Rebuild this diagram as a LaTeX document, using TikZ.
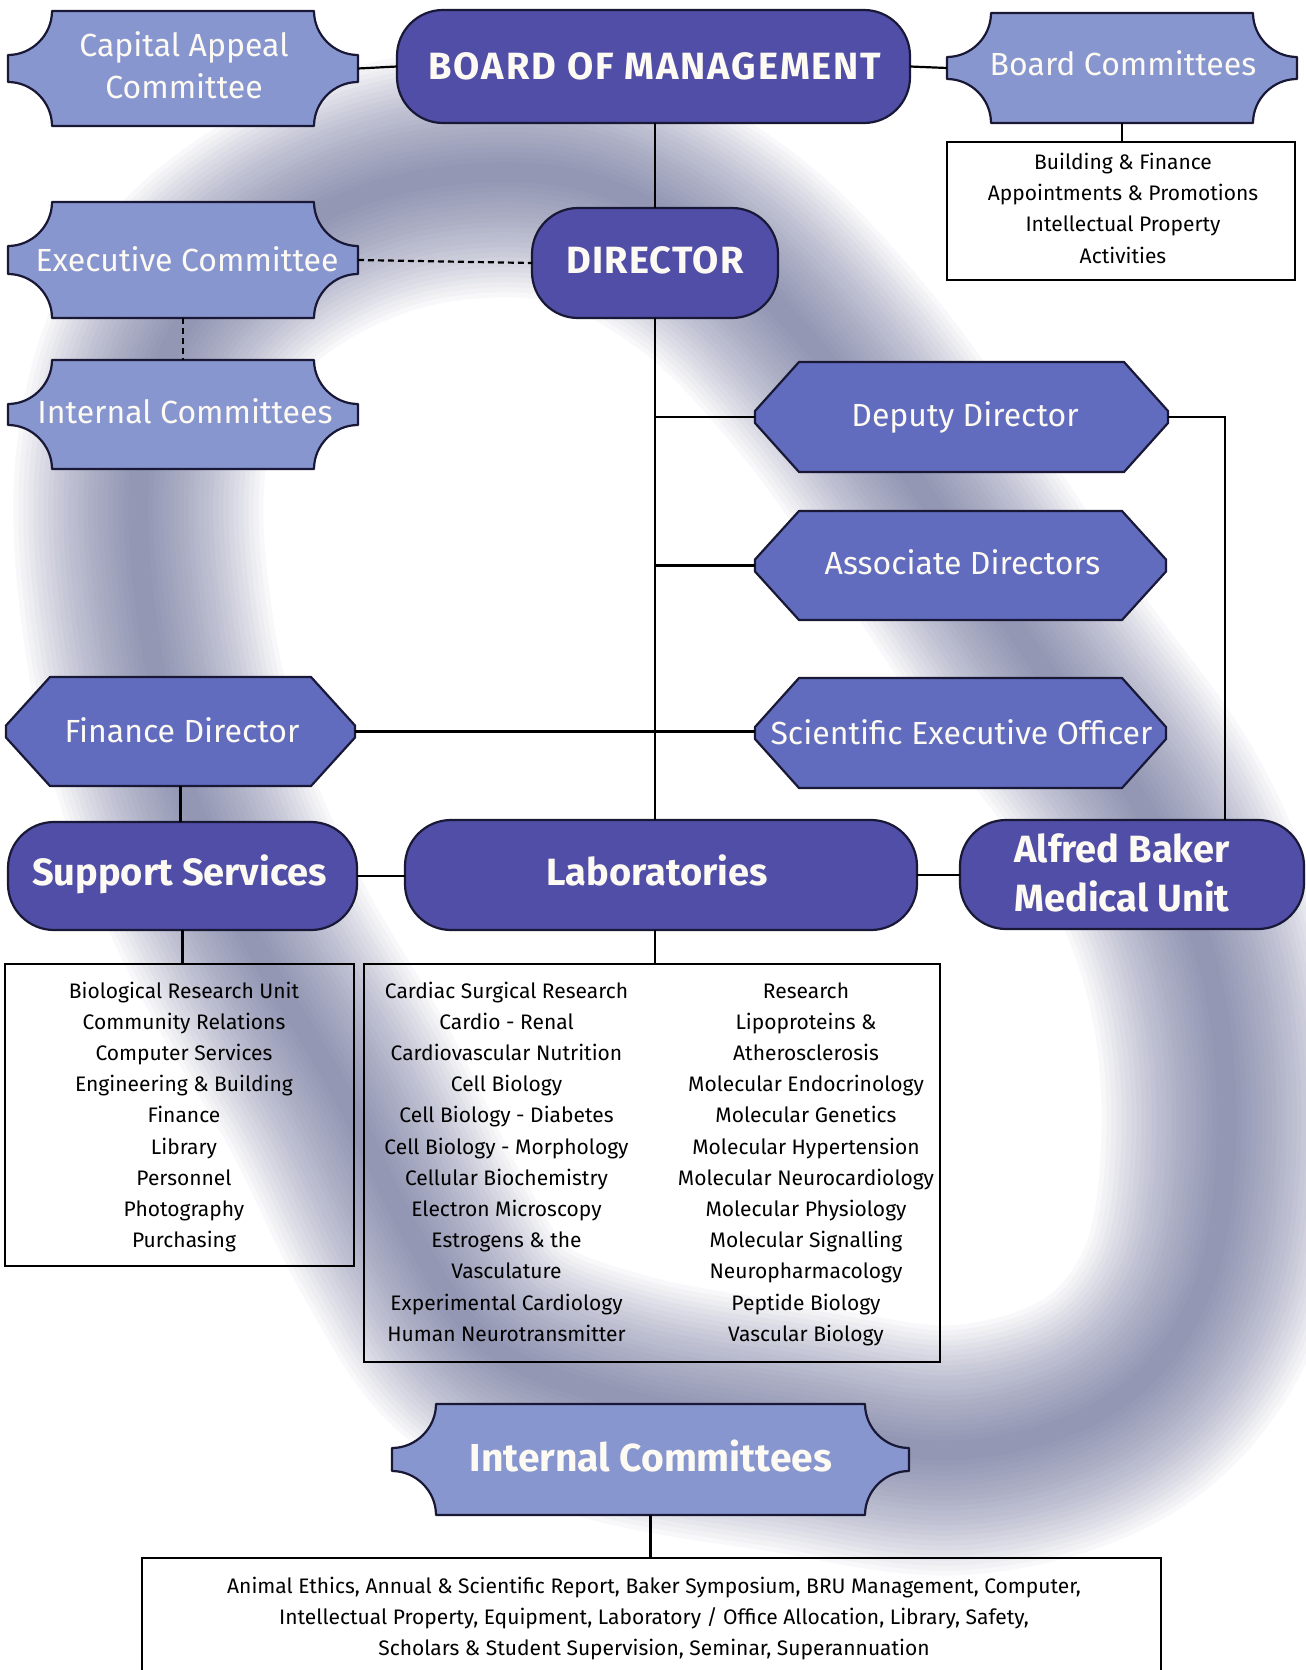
\documentclass[tikz,border=0pt]{standalone}
\usepackage{fontspec}
\setmainfont{Fira Sans}
\usetikzlibrary{calc}

\definecolor{roundblue}{RGB}{80,78,166}
\definecolor{hexblue}{RGB}{98,108,190}
\definecolor{notchblue}{RGB}{136,150,207}
\definecolor{outline}{RGB}{25,25,55}
\definecolor{labelwhite}{RGB}{252,250,242}
\definecolor{swirlcol}{RGB}{95,100,145}

\tikzset{
  notchstyle/.style={fill=notchblue, draw=outline, line width=2.2pt, line join=round},
  hexstyle/.style={fill=hexblue, draw=outline, line width=2.2pt, line join=round},
  roundstyle/.style={fill=roundblue, draw=outline, line width=2.2pt, rounded corners=46pt, inner sep=0pt, outer sep=0pt},
  shapebox/.style={inner sep=0pt, outer sep=0pt},
  lbl/.style={text=labelwhite, font=\fontsize{32}{40}\selectfont, inner sep=0pt, anchor=base},
  boldlbl/.style={text=labelwhite, font=\bfseries\fontsize{38}{46}\selectfont, inner sep=0pt, anchor=base},
  listbox/.style={draw=black, line width=2.6pt, inner sep=0pt, outer sep=0pt},
  listtext/.style={text=black, font=\fontsize{21}{26}\selectfont, inner sep=0pt, anchor=base},
  conn/.style={draw=black, line width=2.2pt},
  dashconn/.style={conn, dash pattern=on 6pt off 4pt},
}

% rectangle with quarter-circle notches at the corners
\newcommand\drawnotch[5]{%
  \path[notchstyle] (#1,#2+44)
    .. controls (#1+24,#2+44) and (#1+44,#2+24) .. (#1+44,#2)
    -- (#3-44,#2)
    .. controls (#3-44,#2+24) and (#3-24,#2+44) .. (#3,#2+44)
    -- (#3,#4-44)
    .. controls (#3-24,#4-44) and (#3-44,#4-24) .. (#3-44,#4)
    -- (#1+44,#4)
    .. controls (#1+44,#4-24) and (#1+24,#4-44) .. (#1,#4-44)
    -- cycle;
  \node[shapebox, minimum width=#3-#1, minimum height=#4-#2] (#5) at ({(#1+#3)/2},{(#2+#4)/2}) {};
}

% elongated hexagon with chamfered ends
\newcommand\drawhex[5]{%
  \path[hexstyle] (#1+44,#2) -- (#3-44,#2) -- (#3,{(#2+#4)/2-6}) -- (#3,{(#2+#4)/2+6})
    -- (#3-44,#4) -- (#1+44,#4) -- (#1,{(#2+#4)/2+6}) -- (#1,{(#2+#4)/2-6}) -- cycle;
  \node[shapebox, minimum width=#3-#1, minimum height=#4-#2] (#5) at ({(#1+#3)/2},{(#2+#4)/2}) {};
}

\begin{document}
\begin{tikzpicture}[x=1pt, y=-1pt]
\useasboundingbox (0,0) rectangle (1306,1670);
\fill[white] (0,0) rectangle (1306,1670);

% soft swirl in the background, built from many faint strokes
\foreach \w in {250,240,...,20}
  \draw[swirlcol, line width=\w pt, draw opacity=0.04, line join=round]
    plot[smooth cycle, tension=0.6] coordinates {
      (140,470) (180,330) (280,235) (420,180) (580,180) (715,250) (825,360)
      (925,495) (1040,665) (1150,820) (1212,980) (1226,1150) (1198,1300)
      (1110,1405) (960,1450) (790,1428) (620,1398) (490,1345) (415,1240)
      (340,1090) (255,945) (190,800) (150,640)};

% shapes (outlines and anchors)
\drawnotch{8}{11}{358}{126}{capital}
\node[roundstyle, minimum width=513, minimum height=113] (board) at (653.5,66.5) {};
\drawnotch{947}{13}{1297}{123}{boardcom}
\node[listbox, minimum width=348, minimum height=138] (bcbox) at (1121,211) {};
\node[roundstyle, minimum width=246, minimum height=110] (director) at (655,263) {};
\drawnotch{8}{202}{358}{318}{exec}
\drawnotch{8}{360}{358}{469}{intleft}
\drawhex{755}{362}{1168}{472}{deputy}
\drawhex{755}{511}{1166}{620}{assoc}
\drawhex{755}{678}{1166}{788}{seo}
\drawhex{6}{677}{355}{786}{finance}
\node[roundstyle, minimum width=349, minimum height=108] (support) at (182.5,876) {};
\node[roundstyle, minimum width=512, minimum height=110] (labs) at (661,875) {};
\node[roundstyle, minimum width=344, minimum height=109] (alfred) at (1132,874.5) {};
\node[listbox, minimum width=349, minimum height=302] (supbox) at (179.5,1115) {};
\node[listbox, minimum width=576, minimum height=398] (labbox) at (652,1163) {};
\drawnotch{392}{1404}{909}{1515}{intbot}
\node[listbox, minimum width=1019, minimum height=160] (botbox) at (651.5,1638) {};
\coordinate (abturn) at (1225,417);

% connectors
\draw[conn] (capital.east) -- (board.west);
\draw[conn] (board.east) -- (boardcom.west);
\draw[conn] (boardcom.south) -- (boardcom.south |- bcbox.north);
\draw[conn] (board.south -| director.north) -- (director.north);
\draw[dashconn] (exec.east) -- (director.west);
\draw[dashconn] (exec.south) -- (intleft.north);
\draw[conn] (director.south) -- (director.south |- labs.north);
\draw[conn] (director.south |- deputy.west) -- (deputy.west);
\draw[conn] (director.south |- assoc.west) -- (assoc.west);
\draw[conn] (finance.east) -- (finance.east -| seo.west);
\draw[conn] (deputy.east) -- (abturn) -- (abturn |- alfred.north);
\draw[conn] (finance.south) -- (finance.south |- support.north);
\draw[conn] (support.east) -- (support.east -| labs.west);
\draw[conn] (labs.east) -- (labs.east -| alfred.west);
\draw[conn] (support.south) -- (support.south |- supbox.north);
\draw[conn] (director.south |- labs.south) -- (director.south |- labbox.north);
\draw[conn] (intbot.south) -- (intbot.south |- botbox.north);

% labels
\node[lbl] (capital-a) at (184,57) {Capital Appeal};
\node[lbl] (capital-b) at (184,98.5) {Committee};
\node[boldlbl] (board-t) at (655,79) {\addfontfeature{LetterSpace=5}BOARD OF MANAGEMENT};
\node[lbl] (boardcom-t) at (1123,75) {Board Committees};
\node[boldlbl] (director-t) at (655,273) {\addfontfeature{LetterSpace=3}DIRECTOR};
\node[lbl] (exec-t) at (187,271) {Executive Committee};
\node[lbl] (intleft-t) at (185,423) {Internal Committees};
\node[lbl] (deputy-t) at (965,426.5) {Deputy Director};
\node[lbl] (assoc-t) at (962.5,574.5) {Associate Directors};
\node[lbl] (seo-t) at (961.5,744) {Scientific Executive Officer};
\node[lbl] (finance-t) at (182,742) {Finance Director};
\node[boldlbl] (support-t) at (179.5,885.5) {Support Services};
\node[boldlbl] (labs-t) at (657,885.5) {Laboratories};
\node[boldlbl] (alfred-a) at (1122,862) {Alfred Baker};
\node[boldlbl] (alfred-b) at (1122,911) {Medical Unit};
\node[boldlbl, font=\bfseries\fontsize{39}{46}\selectfont] (intbot-t) at (651,1471) {Internal Committees};

% list contents
\foreach \t [count=\i] in {Building \& Finance, Appointments \& Promotions, Intellectual Property, Activities}
  \node[listtext] (bc-\i) at (1123,{162+7.3+(\i-1)*31.3}) {\t};

\foreach \t [count=\i] in {Biological Research Unit, Community Relations, Computer Services,
    Engineering \& Building, Finance, Library, Personnel, Photography, Purchasing}
  \node[listtext] (sup-\i) at (184,{990.7+7.3+(\i-1)*31.2}) {\t};

\foreach \t [count=\i] in {Cardiac Surgical Research, Cardio - Renal, Cardiovascular Nutrition,
    Cell Biology, Cell Biology - Diabetes, Cell Biology - Morphology, Cellular Biochemistry,
    Electron Microscopy, Estrogens \& the, Vasculature, Experimental Cardiology, Human Neurotransmitter}
  \node[listtext] (labl-\i) at (506.5,{990.7+7.3+(\i-1)*31.2}) {\t};

\foreach \t [count=\i] in {Research, Lipoproteins \&, Atherosclerosis, Molecular Endocrinology,
    Molecular Genetics, Molecular Hypertension, Molecular Neurocardiology, Molecular Physiology,
    Molecular Signalling, Neuropharmacology, Peptide Biology, Vascular Biology}
  \node[listtext] (labr-\i) at (806,{990.7+7.3+(\i-1)*31.2}) {\t};

\foreach \t [count=\i] in {{Animal Ethics, Annual \& Scientific Report, Baker Symposium, BRU Management, Computer,},
    {Intellectual Property, Equipment, Laboratory / Office Allocation, Library, Safety,},
    {Scholars \& Student Supervision, Seminar, Superannuation}}
  \node[listtext] (bot-\i) at (654,{1586+7.3+(\i-1)*31}) {\t};
\end{tikzpicture}
\end{document}
